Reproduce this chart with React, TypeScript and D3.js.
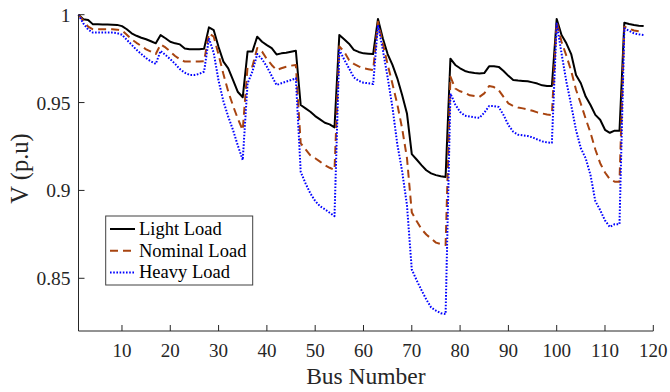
import * as d3 from 'd3'

const lightLoad = [
  1.0, 0.9974, 0.997, 0.9945, 0.9945, 0.9944, 0.9944, 0.9943, 0.9942, 0.9935,
  0.9917, 0.9894, 0.988, 0.9869, 0.986, 0.9849, 0.9837, 0.9884, 0.9866, 0.9846,
  0.9837, 0.9831, 0.9808, 0.9804, 0.9804, 0.9804, 0.9806, 0.9928, 0.9912, 0.9816,
  0.9733, 0.9695, 0.9628, 0.956, 0.953, 0.979, 0.979, 0.9875, 0.9846, 0.9827,
  0.981, 0.9774, 0.978, 0.9783, 0.9789, 0.9795, 0.9486, 0.9467, 0.9448, 0.9423,
  0.9404, 0.9385, 0.9376, 0.9359, 0.9885, 0.986, 0.9835, 0.98, 0.9788, 0.978,
  0.9778, 0.9776, 0.9976, 0.9866, 0.9776, 0.9714, 0.9638, 0.9543, 0.9438, 0.9207,
  0.9176, 0.9144, 0.9115, 0.9097, 0.9087, 0.9081, 0.9077, 0.975, 0.9714, 0.9695,
  0.968, 0.9672, 0.9668, 0.9666, 0.9668, 0.9706, 0.9706, 0.9703, 0.968, 0.9652,
  0.9628, 0.9625, 0.9623, 0.9621, 0.9615, 0.9608, 0.9598, 0.9594, 0.9594, 0.9976,
  0.9884, 0.9837, 0.9776, 0.9657, 0.961, 0.9534, 0.9486, 0.943, 0.9402, 0.9345,
  0.9328, 0.934, 0.934, 0.9954, 0.9947, 0.9941, 0.9937, 0.9935,
]

const nominalLoad = [
  1.0, 0.9966, 0.9932, 0.9917, 0.9917, 0.9917, 0.9917, 0.9917, 0.9915, 0.991,
  0.9886, 0.986, 0.984, 0.9822, 0.9803, 0.979, 0.9776, 0.9831, 0.9814, 0.979,
  0.9765, 0.9746, 0.9733, 0.9733, 0.9733, 0.9733, 0.9735, 0.9894, 0.9875, 0.9772,
  0.9662, 0.9563, 0.9481, 0.9407, 0.9343, 0.9704, 0.9705, 0.981, 0.979, 0.9747,
  0.9714, 0.9685, 0.9695, 0.9704, 0.971, 0.9714, 0.9268, 0.9234, 0.92, 0.9183,
  0.9164, 0.9144, 0.9129, 0.9116, 0.982, 0.979, 0.9742, 0.972, 0.9706, 0.9695,
  0.969, 0.9685, 0.996, 0.9837, 0.9717, 0.9606, 0.949, 0.9353, 0.9185, 0.8875,
  0.8826, 0.878, 0.8749, 0.8726, 0.8703, 0.8695, 0.8689, 0.9647, 0.958, 0.9564,
  0.9555, 0.9541, 0.9537, 0.9532, 0.9552, 0.9594, 0.9588, 0.957, 0.9532, 0.9495,
  0.948, 0.9472, 0.9467, 0.9461, 0.9453, 0.9444, 0.9438, 0.9432, 0.9429, 0.996,
  0.9846, 0.9767, 0.968, 0.9573, 0.9493, 0.9408, 0.9328, 0.9233, 0.9155, 0.9102,
  0.9064, 0.905, 0.9049, 0.9932, 0.9921, 0.991, 0.9906, 0.9903,
]

const heavyLoad = [
  1.0, 0.995, 0.9915, 0.9898, 0.9898, 0.9898, 0.9898, 0.9898, 0.9895, 0.9886,
  0.9857, 0.9829, 0.98, 0.9776, 0.9753, 0.9734, 0.972, 0.9794, 0.9771, 0.9747,
  0.972, 0.969, 0.967, 0.9657, 0.9657, 0.9663, 0.9676, 0.9866, 0.9782, 0.9624,
  0.9507, 0.942, 0.9343, 0.9254, 0.9173, 0.9609, 0.9676, 0.9776, 0.9747, 0.9704,
  0.9651, 0.96, 0.961, 0.9619, 0.9628, 0.9638, 0.9106, 0.904, 0.8983, 0.894,
  0.891, 0.8893, 0.8873, 0.8854, 0.98, 0.9745, 0.9695, 0.9643, 0.9624, 0.9613,
  0.961, 0.9605, 0.9941, 0.9801, 0.9643, 0.9472, 0.9263, 0.911, 0.8916, 0.855,
  0.8489, 0.8433, 0.838, 0.8334, 0.8316, 0.8301, 0.8296, 0.9552, 0.9489, 0.9447,
  0.9425, 0.942, 0.9416, 0.9413, 0.9442, 0.948, 0.948, 0.9475, 0.9429, 0.9372,
  0.9334, 0.9317, 0.9313, 0.931, 0.9302, 0.929, 0.9279, 0.9273, 0.9271, 0.995,
  0.978, 0.9619, 0.9486, 0.9343, 0.924, 0.9183, 0.9087, 0.8939, 0.8888, 0.8829,
  0.8792, 0.8808, 0.8808, 0.9922, 0.9908, 0.9894, 0.9888, 0.9884,
]

const xTicks = [10, 20, 30, 40, 50, 60, 70, 80, 90, 100, 110, 120]
const yTicks = [0.85, 0.9, 0.95, 1]
const yTickLabels = ['0.85', '0.9', '0.95', '1']

const seriesList = [
  { key: 'light', label: 'Light Load', values: lightLoad, color: '#000000', dash: undefined },
  { key: 'nominal', label: 'Nominal Load', values: nominalLoad, color: '#A84410', dash: '8 5' },
  { key: 'heavy', label: 'Heavy Load', values: heavyLoad, color: '#0000FF', dash: '1.6 1.6' },
]

const font = '"Liberation Serif", "Times New Roman", serif'
const axisColor = '#262626'

export default function App() {
  const width = 670
  const height = 392
  const plot = { left: 78.5, right: 653.3, top: 14.7, bottom: 331 }

  const x = d3.scaleLinear().domain([1, 120]).range([plot.left, plot.right])
  const y = d3.scaleLinear().domain([0.82, 1]).range([plot.bottom, plot.top])

  const line = d3
    .line<number>()
    .x((_, i) => x(i + 1))
    .y((v) => y(v))

  const legend = { x: 105.7, y: 216, w: 147, h: 69 }

  return (
    <svg
      width={width}
      height={height}
      viewBox={`0 0 ${width} ${height}`}
      style={{ position: 'absolute', left: 0, top: 0, background: '#fff' }}
    >
      {seriesList.map((s) => (
        <path
          key={s.key}
          d={line(s.values) ?? ''}
          fill="none"
          stroke={s.color}
          strokeWidth={2}
          strokeDasharray={s.dash}
          strokeLinejoin="round"
        />
      ))}

      {/* axes */}
      <line x1={plot.left} x2={plot.left} y1={plot.top} y2={plot.bottom} stroke={axisColor} strokeWidth={1} />
      <line x1={plot.left} x2={plot.right} y1={plot.bottom} y2={plot.bottom} stroke={axisColor} strokeWidth={1} />

      {yTicks.map((tick, i) => (
        <g key={tick} transform={`translate(0,${y(tick)})`}>
          <line x1={plot.left} x2={plot.left + 6} y1={0} y2={0} stroke={axisColor} />
          <text x={70.5} y={7} textAnchor="end" fontSize={19.5} fontFamily={font} fill={axisColor}>
            {yTickLabels[i]}
          </text>
        </g>
      ))}

      {xTicks.map((tick) => (
        <g key={tick} transform={`translate(${x(tick)},0)`}>
          <line x1={0} x2={0} y1={plot.bottom} y2={plot.bottom - 6} stroke={axisColor} />
          <text y={plot.bottom + 25.5} textAnchor="middle" fontSize={19} fontFamily={font} fill={axisColor}>
            {tick}
          </text>
        </g>
      ))}

      <text
        x={(plot.left + plot.right) / 2}
        y={383.5}
        textAnchor="middle"
        fontSize={23.5}
        fontFamily={font}
        fill={axisColor}
      >
        Bus Number
      </text>
      <text
        transform="translate(28,168.5) rotate(-90)"
        textAnchor="middle"
        fontSize={24.5}
        fontFamily={font}
        fill={axisColor}
      >
        V (p.u)
      </text>

      {/* legend */}
      <rect
        x={legend.x}
        y={legend.y}
        width={legend.w}
        height={legend.h}
        fill="#fff"
        stroke="#404040"
        strokeWidth={1}
      />
      {seriesList.map((s, i) => {
        const rowY = legend.y + 13 + i * 21.7
        return (
          <g key={s.key}>
            <line
              x1={110}
              x2={135}
              y1={rowY}
              y2={rowY}
              stroke={s.color}
              strokeWidth={2}
              strokeDasharray={s.dash}
            />
            <text x={139} y={rowY + 6} fontSize={18.5} fontFamily={font} fill="#000">
              {s.label}
            </text>
          </g>
        )
      })}
    </svg>
  )
}
